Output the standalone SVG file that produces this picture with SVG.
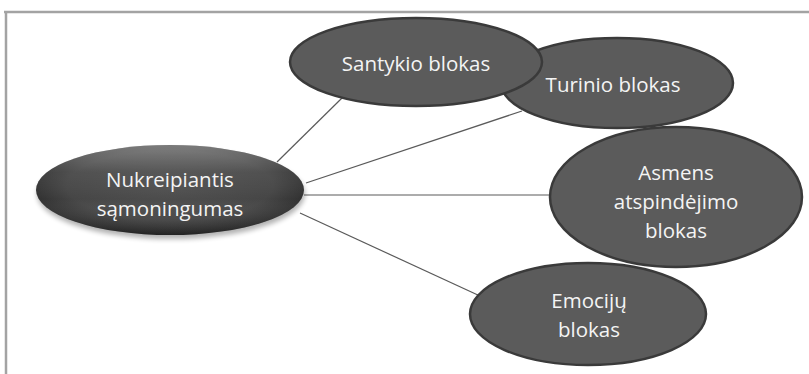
<svg xmlns="http://www.w3.org/2000/svg" width="809" height="374" viewBox="0 0 809 374">
  <style>
    .frame { stroke: #a3a3a3; stroke-width: 2.5; fill: none; }
    .link { stroke: #5a5a5a; stroke-width: 1.2; fill: none; }
    .node { fill: #5b5b5b; stroke: #3a3a3a; stroke-width: 2.5; }
    .label { font-family: "Open Sans", "Liberation Sans", sans-serif; font-size: 20.5px; fill: #f4f4f4; text-anchor: middle; }
  </style>
  <defs>
    <radialGradient id="body" cx="0.5" cy="0.45" r="0.55">
      <stop offset="0" stop-color="#505050"/>
      <stop offset="0.7" stop-color="#464646"/>
      <stop offset="1" stop-color="#2c2c2c"/>
    </radialGradient>
    <linearGradient id="sheen" x1="0" y1="0" x2="0" y2="1">
      <stop offset="0" stop-color="#ffffff" stop-opacity="0.32"/>
      <stop offset="0.3" stop-color="#ffffff" stop-opacity="0.06"/>
      <stop offset="0.6" stop-color="#ffffff" stop-opacity="0"/>
      <stop offset="1" stop-color="#000000" stop-opacity="0.2"/>
    </linearGradient>
    <filter id="soft" x="-10%" y="-20%" width="120%" height="150%">
      <feGaussianBlur stdDeviation="2.5"/>
    </filter>
  </defs>

  <rect width="809" height="374" fill="#ffffff"/>

  <!-- page frame -->
  <path class="frame" d="M4 12 H809 M6 11 V374"/>

  <!-- connectors -->
  <g id="connectors">
    <line class="link" x1="277" y1="162" x2="342" y2="98"/>
    <line class="link" x1="306" y1="183" x2="522" y2="111"/>
    <line class="link" x1="304" y1="195" x2="552" y2="195"/>
    <line class="link" x1="300" y1="213" x2="480" y2="296"/>
  </g>

  <g id="node-turinio">
    <ellipse class="node" cx="617" cy="83" rx="116" ry="45"/>
    <text class="label" x="613" y="92">Turinio blokas</text>
  </g>

  <g id="node-santykio">
    <ellipse class="node" cx="416" cy="62" rx="126" ry="44"/>
    <text class="label" x="416" y="71">Santykio blokas</text>
  </g>

  <g id="node-asmens">
    <ellipse class="node" cx="676" cy="197" rx="126" ry="70"/>
    <text class="label" x="676" y="180">Asmens</text>
    <text class="label" x="676" y="209">atspindėjimo</text>
    <text class="label" x="676" y="238">blokas</text>
  </g>

  <g id="node-emociju">
    <ellipse class="node" cx="588" cy="314" rx="118" ry="51"/>
    <text class="label" x="589" y="308">Emocijų</text>
    <text class="label" x="589" y="337">blokas</text>
  </g>

  <g id="node-nukreipiantis">
    <ellipse cx="171" cy="194" rx="134" ry="45" fill="#000000" opacity="0.3" filter="url(#soft)"/>
    <ellipse cx="170" cy="190" rx="134" ry="45" fill="url(#body)"/>
    <ellipse cx="170" cy="190" rx="134" ry="45" fill="url(#sheen)"/>
    <text class="label" x="170" y="187">Nukreipiantis</text>
    <text class="label" x="170" y="216">sąmoningumas</text>
  </g>
</svg>
